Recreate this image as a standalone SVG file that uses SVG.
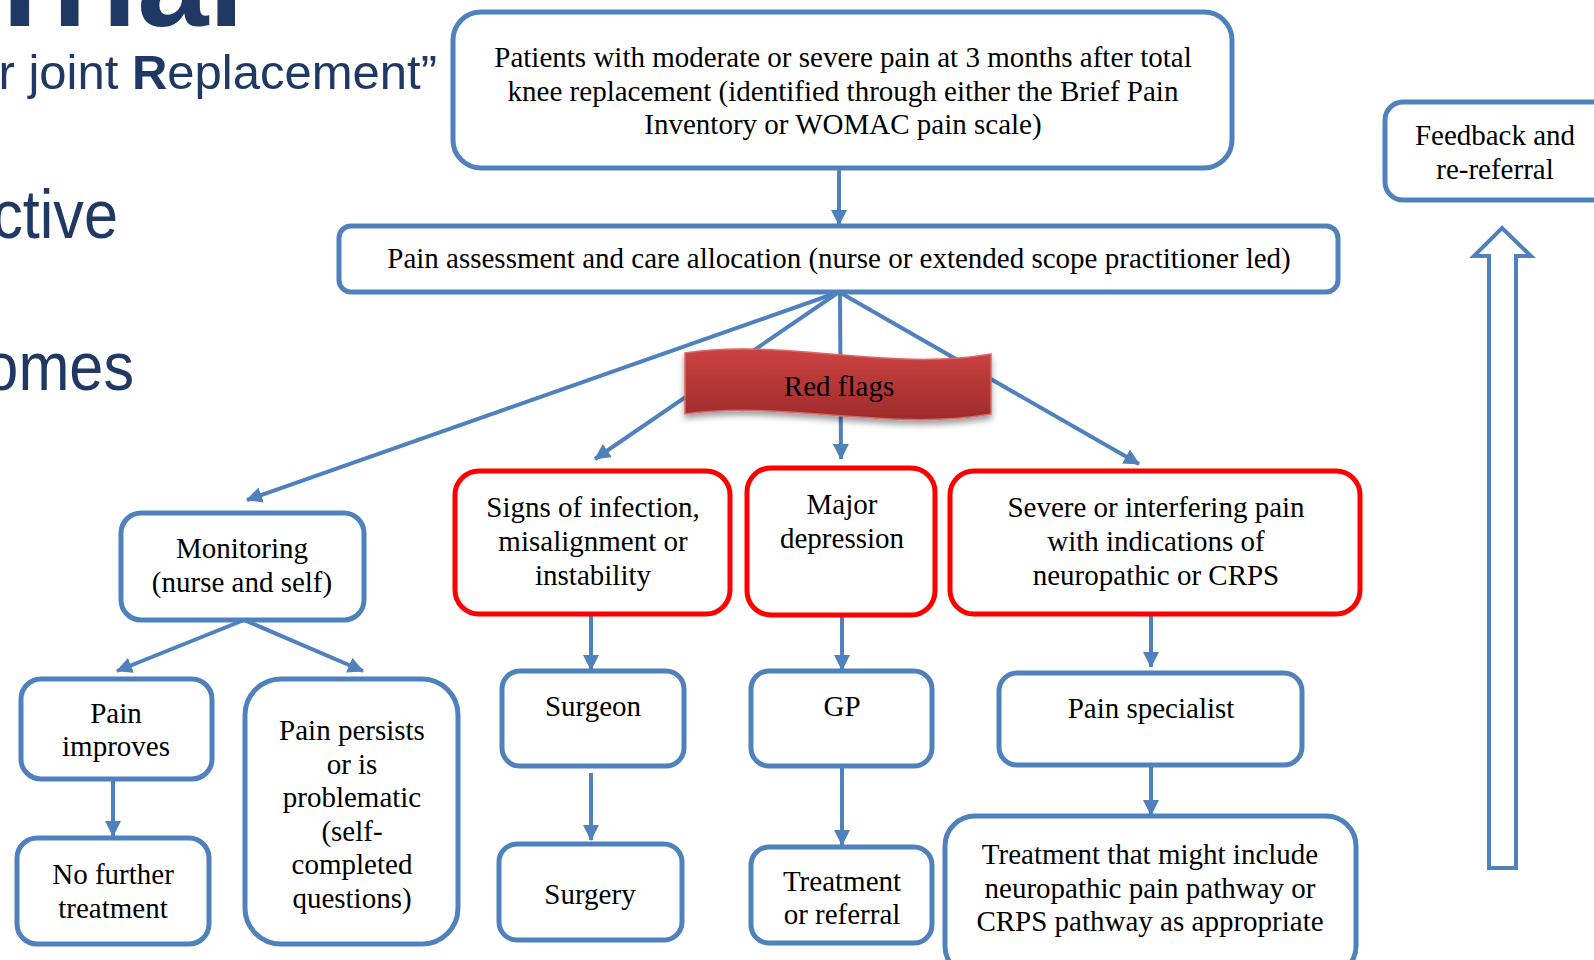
<svg xmlns="http://www.w3.org/2000/svg" width="1594" height="960" viewBox="0 0 1594 960">
<style>
.bx{fill:#fff;stroke:#4f81bd;stroke-width:5}
.rb{fill:#fff;stroke:#ff0000;stroke-width:5}
.t{font-family:"Liberation Serif","Times New Roman",serif;font-size:29px;fill:#000;text-anchor:middle}
.ttl{font-family:"Liberation Sans",Arial,sans-serif;fill:#203864}
.cn{stroke:#4f81bd;stroke-width:4;fill:none;marker-end:url(#ah)}
</style>
<defs>
<marker id="ah" markerWidth="16" markerHeight="16" refX="15" refY="8" orient="auto" markerUnits="userSpaceOnUse">
<path d="M0,0 L16,8 L0,16 Z" fill="#4f81bd"/>
</marker>
<linearGradient id="rg" x1="0" y1="0" x2="0" y2="1">
<stop offset="0" stop-color="#cc4242"/>
<stop offset="1" stop-color="#9e2b2b"/>
</linearGradient>
<filter id="sh" x="-10%" y="-20%" width="120%" height="160%">
<feDropShadow dx="0" dy="4" stdDeviation="3" flood-color="#000" flood-opacity="0.4"/>
</filter>
</defs>
<rect width="1594" height="960" fill="#fff"/>

<g id="title">
<text class="ttl" x="244" y="26" font-size="128" font-weight="bold" text-anchor="end">Trial</text>
<text class="ttl" x="437" y="89" font-size="49" text-anchor="end">er joint <tspan font-weight="bold">R</tspan>eplacement”</text>
<text class="ttl" transform="translate(118,238) scale(0.9,1)" x="0" y="0" font-size="68" text-anchor="end">ctive</text>
<text class="ttl" transform="translate(134,390) scale(0.9,1)" x="0" y="0" font-size="68" text-anchor="end">omes</text>
</g>

<g id="connectors">
<line class="cn" x1="839" y1="170" x2="839" y2="225"/>
<line class="cn" x1="839" y1="292" x2="247" y2="500"/>
<line class="cn" x1="839" y1="292" x2="595" y2="459"/>
<line class="cn" x1="840" y1="292" x2="841" y2="459"/>
<line class="cn" x1="839" y1="292" x2="1139" y2="464"/>
<line class="cn" x1="244" y1="620" x2="117" y2="671"/>
<line class="cn" x1="244" y1="620" x2="363" y2="671"/>
<line class="cn" x1="113" y1="779" x2="113" y2="836"/>
<line class="cn" x1="591" y1="614" x2="591" y2="670"/>
<line class="cn" x1="591" y1="773" x2="591" y2="840"/>
<line class="cn" x1="842" y1="615" x2="842" y2="670"/>
<line class="cn" x1="842" y1="766" x2="842" y2="845"/>
<line class="cn" x1="1151" y1="614" x2="1151" y2="667"/>
<line class="cn" x1="1151" y1="765" x2="1151" y2="815"/>
</g>

<g id="n-patients">
<rect class="bx" x="453" y="12" width="779" height="156" rx="28"/>
<text class="t" x="843" y="67">Patients with moderate or severe pain at 3 months after total</text>
<text class="t" x="843" y="101">knee replacement (identified through either the Brief Pain</text>
<text class="t" x="843" y="134">Inventory or WOMAC pain scale)</text>
</g>

<g id="n-assessment">
<rect class="bx" x="339" y="226" width="999" height="66" rx="12"/>
<text class="t" x="839" y="268">Pain assessment and care allocation (nurse or extended scope practitioner led)</text>
</g>

<g id="n-feedback">
<rect class="bx" x="1385" y="102" width="260" height="98" rx="18"/>
<text class="t" x="1495" y="145">Feedback and</text>
<text class="t" x="1495" y="179">re-referral</text>
</g>

<g id="n-feedback-arrow">
<polygon points="1502,228 1531,256 1516,256 1516,868 1489,868 1489,256 1474,256" fill="#fff" stroke="#4f81bd" stroke-width="4"/>
</g>

<g id="n-redflags">
<path d="M685,353 C785,338 890,372 991,354 L991,414 C890,432 785,400 685,414 Z" fill="url(#rg)" stroke="#d86a6a" stroke-width="1.5" filter="url(#sh)"/>
<text class="t" x="839" y="396">Red flags</text>
</g>

<g id="n-monitoring">
<rect class="bx" x="121" y="513" width="243" height="107" rx="20"/>
<text class="t" x="242" y="558">Monitoring</text>
<text class="t" x="242" y="592">(nurse and self)</text>
</g>

<g id="n-improves">
<rect class="bx" x="21" y="679" width="191" height="100" rx="20"/>
<text class="t" x="116" y="723">Pain</text>
<text class="t" x="116" y="756">improves</text>
</g>

<g id="n-nofurther">
<rect class="bx" x="17" y="838" width="192" height="106" rx="20"/>
<text class="t" x="113" y="884">No further</text>
<text class="t" x="113" y="918">treatment</text>
</g>

<g id="n-persists">
<rect class="bx" x="245" y="679" width="213" height="265" rx="36"/>
<text class="t" x="352" y="740">Pain persists</text>
<text class="t" x="352" y="774">or is</text>
<text class="t" x="352" y="807">problematic</text>
<text class="t" x="352" y="841">(self-</text>
<text class="t" x="352" y="874">completed</text>
<text class="t" x="352" y="908">questions)</text>
</g>

<g id="n-signs">
<rect class="rb" x="455" y="471" width="275" height="143" rx="24"/>
<text class="t" x="593" y="517">Signs of infection,</text>
<text class="t" x="593" y="551">misalignment or</text>
<text class="t" x="593" y="585">instability</text>
</g>

<g id="n-depression">
<rect class="rb" x="747" y="468" width="188" height="147" rx="24"/>
<text class="t" x="842" y="514">Major</text>
<text class="t" x="842" y="548">depression</text>
</g>

<g id="n-severe">
<rect class="rb" x="950" y="471" width="410" height="143" rx="24"/>
<text class="t" x="1156" y="517">Severe or interfering pain</text>
<text class="t" x="1156" y="551">with indications of</text>
<text class="t" x="1156" y="585">neuropathic or CRPS</text>
</g>

<g id="n-surgeon">
<rect class="bx" x="502" y="671" width="182" height="95" rx="18"/>
<text class="t" x="593" y="716">Surgeon</text>
</g>

<g id="n-gp">
<rect class="bx" x="751" y="671" width="181" height="95" rx="18"/>
<text class="t" x="842" y="716">GP</text>
</g>

<g id="n-specialist">
<rect class="bx" x="999" y="673" width="303" height="92" rx="18"/>
<text class="t" x="1151" y="718">Pain specialist</text>
</g>

<g id="n-surgery">
<rect class="bx" x="499" y="844" width="183" height="96" rx="18"/>
<text class="t" x="590" y="904">Surgery</text>
</g>

<g id="n-treatref">
<rect class="bx" x="751" y="847" width="181" height="96" rx="18"/>
<text class="t" x="842" y="891">Treatment</text>
<text class="t" x="842" y="924">or referral</text>
</g>

<g id="n-treatment">
<rect class="bx" x="945" y="816" width="411" height="160" rx="30"/>
<text class="t" x="1150" y="864">Treatment that might include</text>
<text class="t" x="1150" y="898">neuropathic pain pathway or</text>
<text class="t" x="1150" y="931">CRPS pathway as appropriate</text>
</g>
</svg>
